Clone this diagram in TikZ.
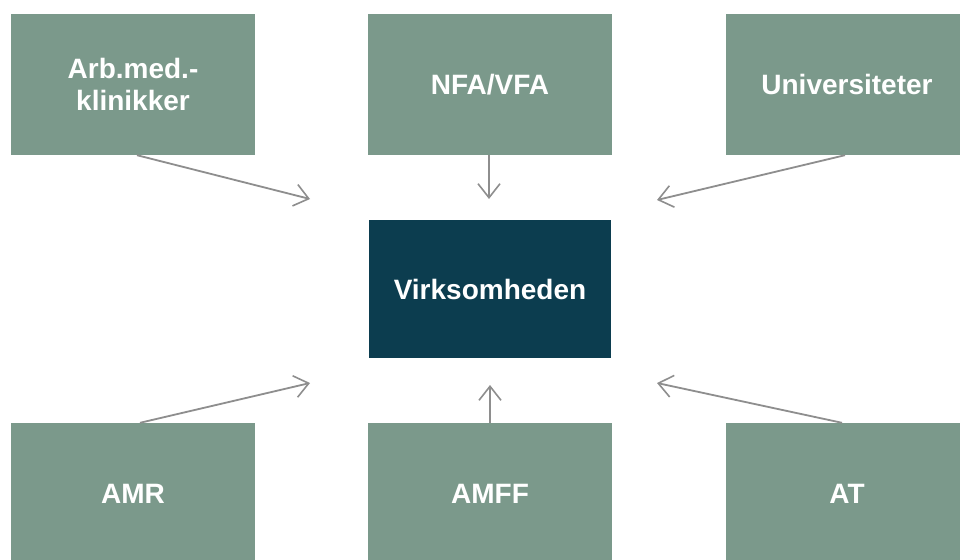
\documentclass[tikz,border=0pt]{standalone}
\usepackage{fontspec}
\setmainfont{Liberation Sans}
\usetikzlibrary{arrows.meta}
\definecolor{boxgreen}{HTML}{7B998B}
\definecolor{boxdark}{HTML}{0C3D4F}
\definecolor{arrowgray}{HTML}{8E8E8E}
\tikzset{
  srcbox/.style={rectangle, fill=boxgreen, draw=none, minimum width=244pt, minimum height=141pt, inner sep=0pt, text=white, font=\fontsize{28}{32}\selectfont\bfseries, align=center},
  centerbox/.style={srcbox, fill=boxdark, minimum width=242pt, minimum height=138pt},
  conn/.style={draw=arrowgray, line width=1.8pt, -{Straight Barb[length=14pt,width=22pt,line width=1.6pt]}}
}
\begin{document}
\begin{tikzpicture}[x=1pt,y=-1pt]
\useasboundingbox (0,0) rectangle (960,559);
\clip (0,0) rectangle (960,559);
\fill[white] (0,0) rectangle (960,559);
\node[srcbox] (tl) at (133,84.5) {Arb.med.-\\klinikker};
\node[srcbox] (tm) at (490,84.5) {NFA/VFA};
\node[srcbox, minimum width=242pt] (tr) at (847,84.5) {Universiteter};
\node[centerbox] (c) at (490,289) {Virksomheden};
\node[srcbox] (bl) at (133,493.5) {AMR};
\node[srcbox] (bm) at (490,493.5) {AMFF};
\node[srcbox, minimum width=242pt] (br) at (847,493.5) {AT};
\coordinate (ptl) at (310,199);
\coordinate (ptm) at (489,199);
\coordinate (ptr) at (657,200);
\coordinate (pbl) at (310,383);
\coordinate (pbm) at (490,385);
\coordinate (pbr) at (657,383);
\draw[conn] ([xshift=4pt]tl.south) -- (ptl);
\draw[conn] ([xshift=-1pt]tm.south) -- (ptm);
\draw[conn] ([xshift=-2pt]tr.south) -- (ptr);
\draw[conn] ([xshift=7pt]bl.north) -- (pbl);
\draw[conn] (bm.north) -- (pbm);
\draw[conn] ([xshift=-5pt]br.north) -- (pbr);
\end{tikzpicture}
\end{document}
